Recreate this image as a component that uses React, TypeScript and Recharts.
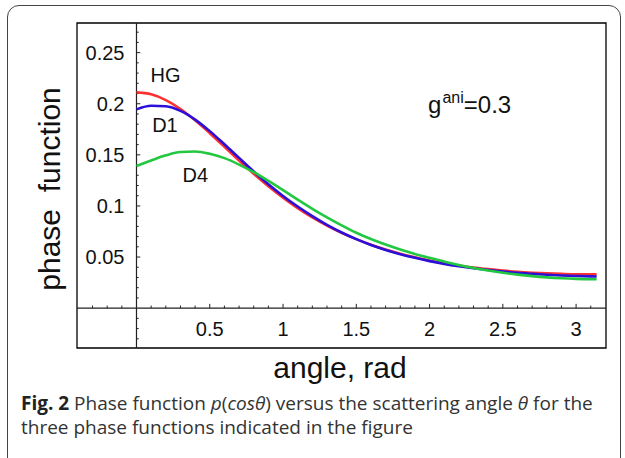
import React from "react";
import { LineChart, Line, XAxis, YAxis, ReferenceLine, ReferenceArea, ReferenceDot } from "recharts";

// scattering angle, rad
const ANGLE = [
  0, 0.1, 0.2, 0.3, 0.4, 0.5, 0.6, 0.7, 0.8, 0.9, 1.0, 1.1, 1.2, 1.3, 1.4, 1.5, 1.6, 1.7, 1.8, 1.9, 2.0,
  2.1, 2.2, 2.3, 2.4, 2.5, 2.6, 2.7, 2.8, 2.9, 3.0, 3.1, 3.14,
];
const HG = [
  0.2111, 0.2092, 0.2036, 0.1949, 0.1838, 0.1712, 0.1579, 0.1444, 0.1315, 0.1193, 0.1081, 0.0979, 0.0888,
  0.0808, 0.0737, 0.0675, 0.0621, 0.0574, 0.0533, 0.0498, 0.0467, 0.044, 0.0418, 0.0398, 0.0382, 0.0368,
  0.0356, 0.0347, 0.034, 0.0335, 0.0331, 0.033, 0.033,
];
const D1 = [
  0.1945, 0.198, 0.1975, 0.193, 0.1845, 0.1732, 0.1603, 0.147, 0.1338, 0.1213, 0.1098, 0.0994, 0.09,
  0.0815, 0.074, 0.0675, 0.0618, 0.057, 0.0528, 0.0492, 0.046, 0.0433, 0.041, 0.039, 0.0373, 0.0358,
  0.0345, 0.0335, 0.0326, 0.0319, 0.0314, 0.0311, 0.031,
];
const D4 = [
  0.139, 0.1445, 0.1495, 0.1528, 0.1532, 0.151, 0.1468, 0.1405, 0.133, 0.1245, 0.1155, 0.1062, 0.0972,
  0.0888, 0.081, 0.0738, 0.0676, 0.0622, 0.0573, 0.053, 0.0492, 0.0456, 0.0422, 0.0393, 0.0368, 0.0346,
  0.0328, 0.0313, 0.0301, 0.0292, 0.0286, 0.0283, 0.0282,
];

const X_MAJOR = [0.5, 1, 1.5, 2, 2.5, 3];
const X_LABELS = ["0.5", "1", "1.5", "2", "2.5", "3"];
const X_MINOR = [
  -0.3, -0.2, -0.1, 0.1, 0.2, 0.3, 0.4, 0.6, 0.7, 0.8, 0.9, 1.1, 1.2, 1.3, 1.4, 1.6, 1.7, 1.8, 1.9, 2.1,
  2.2, 2.3, 2.4, 2.6, 2.7, 2.8, 2.9, 3.1,
];
const Y_MAJOR = [0.05, 0.1, 0.15, 0.2, 0.25];
const Y_LABELS = ["0.05", "0.1", "0.15", "0.2", "0.25"];
const Y_MINOR = [
  -0.03, -0.02, -0.01, 0.01, 0.02, 0.03, 0.04, 0.06, 0.07, 0.08, 0.09, 0.11, 0.12, 0.13, 0.14, 0.16, 0.17,
  0.18, 0.19, 0.21, 0.22, 0.23, 0.24, 0.26, 0.27,
];

const X_DOMAIN = [-0.406, 3.204];
const Y_DOMAIN = [-0.039, 0.279];

const FONT = "'Liberation Sans', Arial, Helvetica, sans-serif";
const INK = "#111";

const data = ANGLE.map((a, i) => ({ angle: a, hg: HG[i], d1: D1[i], d4: D4[i] }));

function GaniLabel({ viewBox }: any) {
  return (
    <text x={viewBox.x} y={viewBox.y} fontFamily={FONT} fontSize={24} fill={INK}>
      g
      <tspan dx={1} dy={-10} fontSize={16}>
        ani
      </tspan>
      <tspan dy={10} fontSize={24}>
        =0.3
      </tspan>
    </text>
  );
}

export default function App() {
  return (
    <div style={{ position: "absolute", left: 0, top: 0, width: 625, height: 458, background: "#fff", overflow: "hidden" }}>
      {/* rounded figure box */}
      <div
        style={{
          position: "absolute",
          left: 7,
          top: 5,
          width: 614,
          height: 480,
          border: "1.5px solid #444",
          borderRadius: 12,
          boxSizing: "border-box",
        }}
      />

      <div style={{ position: "absolute", left: 0, top: 0 }}>
        <LineChart width={625} height={390} data={data} margin={{ top: 23, left: 77, right: 19, bottom: 42 }}>
          <XAxis type="number" dataKey="angle" domain={X_DOMAIN} hide allowDataOverflow />
          <YAxis type="number" domain={Y_DOMAIN} hide allowDataOverflow />

          <ReferenceArea
            x1={X_DOMAIN[0]}
            x2={X_DOMAIN[1]}
            y1={Y_DOMAIN[0]}
            y2={Y_DOMAIN[1]}
            fill="none"
            fillOpacity={0}
            stroke="#000"
            strokeWidth={1.3}
          />
          <ReferenceLine x={0} stroke="#222" strokeWidth={1.2} />
          <ReferenceLine y={0} stroke="#222" strokeWidth={1.2} />

          {/* x ticks */}
          {X_MINOR.map((v) => (
            <ReferenceLine key={`xm${v}`} segment={[{ x: v, y: 0 }, { x: v, y: 0.0025 }]} stroke="#222" />
          ))}
          {X_MAJOR.map((v, i) => (
            <ReferenceLine
              key={`xM${v}`}
              segment={[{ x: v, y: 0 }, { x: v, y: 0.0042 }]}
              stroke="#222"
              label={{ value: X_LABELS[i], position: "bottom", offset: 14, fontSize: 20, fill: INK, fontFamily: FONT }}
            />
          ))}

          {/* y ticks */}
          {Y_MINOR.map((v) => (
            <ReferenceLine key={`ym${v}`} segment={[{ x: 0, y: v }, { x: 0.015, y: v }]} stroke="#222" />
          ))}
          {Y_MAJOR.map((v, i) => (
            <ReferenceLine
              key={`yM${v}`}
              segment={[{ x: 0, y: v }, { x: 0.026, y: v }]}
              stroke="#222"
              label={{ value: Y_LABELS[i], position: "left", offset: 12, fontSize: 20, fill: INK, fontFamily: FONT }}
            />
          ))}

          <Line type="monotone" dataKey="hg" stroke="#ff3030" strokeWidth={2.6} dot={false} isAnimationActive={false} />
          <Line type="monotone" dataKey="d1" stroke="#2a10d8" strokeWidth={2.6} dot={false} isAnimationActive={false} />
          <Line type="monotone" dataKey="d4" stroke="#22c840" strokeWidth={2.6} dot={false} isAnimationActive={false} />

          <ReferenceDot x={0.198} y={0.2287} r={0} fill="none" stroke="none"
            label={{ value: "HG", position: "center", fontSize: 20, fill: INK, fontFamily: FONT }} />
          <ReferenceDot x={0.194} y={0.179} r={0} fill="none" stroke="none"
            label={{ value: "D1", position: "center", fontSize: 20, fill: INK, fontFamily: FONT }} />
          <ReferenceDot x={0.402} y={0.13} r={0} fill="none" stroke="none"
            label={{ value: "D4", position: "center", fontSize: 20, fill: INK, fontFamily: FONT }} />
          <ReferenceDot x={1.99} y={0.1906} r={0} fill="none" stroke="none" label={<GaniLabel />} />
        </LineChart>
      </div>

      {/* axis titles */}
      <svg width={625} height={400} style={{ position: "absolute", left: 0, top: 0, pointerEvents: "none" }}>
        <text
          x={60}
          y={189}
          transform="rotate(-90 60 189)"
          textAnchor="middle"
          fontFamily={FONT}
          fontSize={30}
          fill={INK}
          style={{ whiteSpace: "pre" }}
        >
          {"phase  function"}
        </text>
        <text x={340} y={378} textAnchor="middle" fontFamily={FONT} fontSize={30} fill={INK}>
          angle, rad
        </text>
      </svg>

      {/* caption */}
      <div
        style={{
          position: "absolute",
          left: 21,
          top: 391,
          width: 600,
          fontFamily: "'Open Sans', 'Noto Sans', sans-serif",
          fontSize: 19,
          lineHeight: "24px",
          color: "#333",
          whiteSpace: "nowrap",
        }}
      >
        <b style={{ color: "#222" }}>Fig. 2</b> Phase function <i>p</i>(<i>cosθ</i>) versus the scattering angle{" "}
        <i>θ</i> for the
        <br />
        three phase functions indicated in the figure
      </div>
    </div>
  );
}
